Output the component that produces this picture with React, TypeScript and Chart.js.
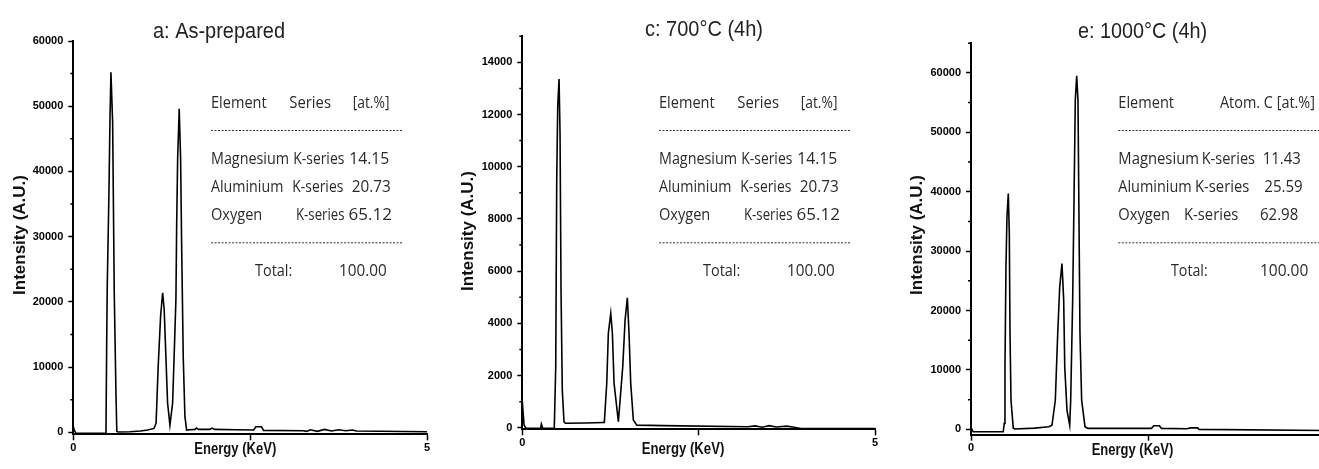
import React, { useEffect, useRef } from 'react';
import { Chart, registerables } from 'chart.js';

Chart.register(...registerables);

// ---------------- data ----------------
const X_RANGE = [0, 5];
const X_TICKS = [0, 2.5, 5];
const X_TICK_LABELS = ['0', '', '5'];
const X_TITLE = 'Energy (KeV)';
const Y_TITLE = 'Intensity (A.U.)';

// Panel a: As-prepared
const A_TITLE = 'a: As-prepared';
const A_ENERGY = [0.0, 0.015, 0.04, 0.45, 0.462, 0.472, 0.48, 0.504, 0.518, 0.532, 0.556, 0.565, 0.579, 0.603, 0.615, 0.63, 0.8, 0.95, 1.05, 1.14, 1.17, 1.2, 1.234, 1.263, 1.285, 1.309, 1.333, 1.366, 1.404, 1.427, 1.451, 1.461, 1.475, 1.497, 1.517, 1.531, 1.554, 1.578, 1.602, 1.65, 1.72, 1.74, 1.77, 1.93, 1.96, 2.0, 2.3, 2.55, 2.58, 2.66, 2.69, 3.25, 3.3, 3.35, 3.45, 3.55, 3.65, 3.75, 3.85, 3.95, 4.0, 5.0];
const A_COUNTS = [900, 300, -150, -150, 0, 13700, 22400, 36800, 47600, 55200, 47600, 37300, 21400, 6000, 200, 50, 100, 200, 350, 600, 1400, 10100, 17800, 21400, 18800, 11600, 4500, 1100, 4500, 12200, 20500, 31600, 41900, 49600, 41900, 29100, 11600, 2400, 350, 400, 450, 650, 450, 450, 650, 450, 400, 350, 850, 850, 300, 250, 150, 400, 150, 450, 200, 400, 250, 350, 200, 100];
const A_Y_RANGE = [-300, 60000];
const A_Y_TICKS = [0, 10000, 20000, 30000, 40000, 50000, 60000];
const A_Y_TICK_LABELS = ['0', '10000', '20000', '30000', '40000', '50000', '60000'];
const A_Y_MINOR = [5000, 15000, 25000, 35000, 45000, 55000];
const A_TABLE_HEADER = ['Element', 'Series', '[at.%]'];
const A_TABLE_ROWS = [
  ['Magnesium', 'K-series', '14.15'],
  ['Aluminium', 'K-series', '20.73'],
  ['Oxygen', 'K-series', '65.12'],
];
const A_TOTAL = ['Total:', '100.00'];

// Panel c: 700°C (4h)
const C_TITLE = 'c: 700°C (4h)';
const C_ENERGY = [0.0, 0.025, 0.05, 0.26, 0.27, 0.29, 0.45, 0.454, 0.474, 0.488, 0.502, 0.521, 0.535, 0.549, 0.567, 0.591, 0.61, 0.9, 1.15, 1.163, 1.197, 1.22, 1.254, 1.277, 1.301, 1.362, 1.424, 1.457, 1.489, 1.513, 1.537, 1.574, 1.623, 2.0, 3.2, 3.3, 3.4, 3.5, 3.6, 3.75, 3.85, 3.95, 5.0];
const C_COUNTS = [1000, 100, -20, -20, 140, -20, -20, 50, 2340, 9490, 12300, 13360, 11280, 5280, 1440, 230, 170, 180, 200, 200, 1700, 3620, 4380, 3620, 1700, 230, 2340, 4120, 4980, 3620, 1700, 300, 100, 80, 40, 70, 20, 80, 30, 60, 20, -30, -30];
const C_Y_RANGE = [-60, 15000];
const C_Y_TICKS = [0, 2000, 4000, 6000, 8000, 10000, 12000, 14000];
const C_Y_TICK_LABELS = ['0', '2000', '4000', '6000', '8000', '10000', '12000', '14000'];
const C_Y_MINOR = [1000, 3000, 5000, 7000, 9000, 11000, 13000, 15000];
const C_TABLE_HEADER = ['Element', 'Series', '[at.%]'];
const C_TABLE_ROWS = [
  ['Magnesium', 'K-series', '14.15'],
  ['Aluminium', 'K-series', '20.73'],
  ['Oxygen', 'K-series', '65.12'],
];
const C_TOTAL = ['Total:', '100.00'];

// Panel e: 1000°C (4h)
const E_TITLE = 'e: 1000°C (4h)';
const E_ENERGY = [0.0, 0.03, 0.455, 0.47, 0.48, 0.494, 0.508, 0.527, 0.541, 0.551, 0.565, 0.597, 0.62, 0.9, 1.1, 1.144, 1.191, 1.225, 1.253, 1.285, 1.309, 1.324, 1.356, 1.394, 1.408, 1.436, 1.455, 1.473, 1.493, 1.511, 1.525, 1.539, 1.563, 1.61, 1.65, 2.55, 2.58, 2.66, 2.69, 3.05, 3.1, 3.2, 3.22, 5.0];
const E_COUNTS = [300, -400, -400, 1000, 10500, 27400, 35800, 39700, 33000, 16200, 4900, 200, 50, 200, 450, 700, 4900, 16200, 24000, 27900, 21800, 10500, 3200, 700, 4900, 21800, 38600, 55400, 59500, 55400, 35800, 16200, 4900, 450, 170, 170, 600, 600, 170, 100, 250, 250, 0, -200];
const E_Y_RANGE = [-900, 65000];
const E_Y_TICKS = [0, 10000, 20000, 30000, 40000, 50000, 60000];
const E_Y_TICK_LABELS = ['0', '10000', '20000', '30000', '40000', '50000', '60000'];
const E_Y_MINOR = [5000, 15000, 25000, 35000, 45000, 55000, 65000];
const E_TABLE_HEADER = ['Element', 'Atom. C [at.%]'];
const E_TABLE_ROWS = [
  ['Magnesium', 'K-series', '11.43'],
  ['Aluminium', 'K-series', '25.59'],
  ['Oxygen', 'K-series', '62.98'],
];
const E_TOTAL = ['Total:', '100.00'];

// ---------------- layout (page pixel coordinates) ----------------
const H = 469;
const X_AXIS_H = 30;
const TABLE_Y = { header: 108.3, rows: [164.3, 192.3, 220.3], total: 276, dashes: [130, 242.3] };

type Seg = [number, number]; // x, maxWidth
type Layout = {
  left: number; width: number;
  area: { l: number; r: number; t: number; b: number };
  title: { x: number; w: number; y: number };
  yTitle: { x: number; y: number };
  xTitle: { x: number; w: number; y: number };
  header: Seg[]; rows: Seg[][]; total: Seg[]; dash: [number, number];
};

const shift = (segs: Seg[], d: number): Seg[] => segs.map(([x, w]) => [x + d, w] as Seg);

const A_LAYOUT: Layout = {
  left: 0, width: 440,
  area: { l: 73.3, r: 427, t: 41, b: 434.3 },
  title: { x: 153, w: 132, y: 37.7 },
  yTitle: { x: 24.5, y: 235 },
  xTitle: { x: 194.3, w: 82, y: 454 },
  header: [[211, 55.7], [289.3, 41.7], [352.7, 36.7]],
  rows: [
    [[211, 78], [293.3, 51], [349.3, 40]],
    [[211, 72.3], [292.3, 51], [351.7, 39]],
    [[211, 51.3], [296, 48.5], [348.5, 45]],
  ],
  total: [[255, 37.3], [339, 47.7]],
  dash: [211, 402.7],
};

const C_LAYOUT: Layout = {
  left: 440, width: 440,
  area: { l: 522.3, r: 875, t: 36.2, b: 429.3 },
  title: { x: 645, w: 118, y: 35.5 },
  yTitle: { x: 473.3, y: 231 },
  xTitle: { x: 641.7, w: 82.6, y: 454 },
  header: shift(A_LAYOUT.header, 448),
  rows: A_LAYOUT.rows.map((r) => shift(r, 448)),
  total: shift(A_LAYOUT.total, 448),
  dash: [659, 850.7],
};

const E_LAYOUT: Layout = {
  left: 880, width: 460,
  area: { l: 971, r: 1325, t: 43.2, b: 434.7 },
  title: { x: 1078, w: 129, y: 38 },
  yTitle: { x: 921.7, y: 235 },
  xTitle: { x: 1091.7, w: 81.6, y: 455 },
  header: [[1118.3, 55.7], [1220, 95]],
  rows: [
    [[1118.3, 80.7], [1201.7, 53.3], [1262.7, 38]],
    [[1118.3, 73.4], [1195, 54.3], [1264.3, 38.4]],
    [[1118.3, 51.7], [1184, 54.3], [1260, 38.3]],
  ],
  total: [[1171, 36.7], [1260, 48.3]],
  dash: [1118.3, 1330],
};

type PanelData = {
  title: string; energy: number[]; counts: number[];
  yRange: number[]; yTicks: number[]; yTickLabels: string[]; yMinor: number[];
  header: string[]; rows: string[][]; total: string[];
};

const PANELS: { data: PanelData; layout: Layout }[] = [
  { data: { title: A_TITLE, energy: A_ENERGY, counts: A_COUNTS, yRange: A_Y_RANGE, yTicks: A_Y_TICKS, yTickLabels: A_Y_TICK_LABELS, yMinor: A_Y_MINOR, header: A_TABLE_HEADER, rows: A_TABLE_ROWS, total: A_TOTAL }, layout: A_LAYOUT },
  { data: { title: C_TITLE, energy: C_ENERGY, counts: C_COUNTS, yRange: C_Y_RANGE, yTicks: C_Y_TICKS, yTickLabels: C_Y_TICK_LABELS, yMinor: C_Y_MINOR, header: C_TABLE_HEADER, rows: C_TABLE_ROWS, total: C_TOTAL }, layout: C_LAYOUT },
  { data: { title: E_TITLE, energy: E_ENERGY, counts: E_COUNTS, yRange: E_Y_RANGE, yTicks: E_Y_TICKS, yTickLabels: E_Y_TICK_LABELS, yMinor: E_Y_MINOR, header: E_TABLE_HEADER, rows: E_TABLE_ROWS, total: E_TOTAL }, layout: E_LAYOUT },
];

const TICK_FONT = { family: "'Liberation Sans', Arial, sans-serif", size: 11, weight: 'bold' as const };
const TABLE_FONT = "17px 'Open Sans', 'Noto Sans', sans-serif";

function Panel({ data, layout }: { data: PanelData; layout: Layout }) {
  const ref = useRef<HTMLCanvasElement>(null);

  useEffect(() => {
    const canvas = ref.current;
    if (!canvas) return;
    const P = layout.left;
    const W = layout.width;
    const a = layout.area;

    const decor = {
      id: 'decor',
      afterDraw(chart: any) {
        const ctx: CanvasRenderingContext2D = chart.ctx;
        const ys = chart.scales.y;
        const area = chart.chartArea;
        ctx.save();
        // minor ticks
        ctx.strokeStyle = '#000';
        ctx.lineWidth = 1.5;
        ctx.beginPath();
        for (const v of data.yMinor) {
          const py = ys.getPixelForValue(v);
          ctx.moveTo(area.left - 3, py);
          ctx.lineTo(area.left, py);
        }
        ctx.stroke();

        // title
        ctx.fillStyle = '#222';
        ctx.textAlign = 'left';
        ctx.textBaseline = 'alphabetic';
        ctx.font = "22px 'Liberation Sans', Arial, sans-serif";
        ctx.fillText(data.title, layout.title.x - P, layout.title.y, layout.title.w);

        // x title
        ctx.fillStyle = '#111';
        ctx.font = "bold 16px 'Liberation Sans', Arial, sans-serif";
        ctx.fillText(X_TITLE, layout.xTitle.x - P, layout.xTitle.y, layout.xTitle.w);

        // y title
        ctx.save();
        ctx.translate(layout.yTitle.x - P, layout.yTitle.y);
        ctx.rotate(-Math.PI / 2);
        ctx.textAlign = 'center';
        ctx.font = "bold 17px 'Liberation Sans', Arial, sans-serif";
        ctx.fillText(Y_TITLE, 0, 0, 124);
        ctx.restore();

        // table
        ctx.fillStyle = '#2a2a2a';
        ctx.textAlign = 'left';
        ctx.font = TABLE_FONT;
        data.header.forEach((t, i) => {
          const [x, w] = layout.header[i];
          ctx.fillText(t, x - P, TABLE_Y.header, w);
        });
        data.rows.forEach((row, r) => {
          row.forEach((t, i) => {
            const [x, w] = layout.rows[r][i];
            ctx.fillText(t, x - P, TABLE_Y.rows[r], w);
          });
        });
        data.total.forEach((t, i) => {
          const [x, w] = layout.total[i];
          ctx.fillText(t, x - P, TABLE_Y.total, w);
        });
        ctx.strokeStyle = '#333';
        ctx.lineWidth = 1;
        ctx.setLineDash([2, 1.5]);
        ctx.beginPath();
        for (const dy of TABLE_Y.dashes) {
          ctx.moveTo(layout.dash[0] - P, dy + 0.5);
          ctx.lineTo(layout.dash[1] - P, dy + 0.5);
        }
        ctx.stroke();
        ctx.restore();
      },
    };

    const chart = new Chart(canvas, {
      type: 'line',
      data: {
        datasets: [
          {
            data: data.energy.map((x, i) => ({ x, y: data.counts[i] })),
            borderColor: '#000',
            borderWidth: 1.6,
            pointRadius: 0,
            tension: 0,
            fill: false,
          },
        ],
      },
      options: {
        animation: false,
        responsive: false,
        devicePixelRatio: 1,
        events: [],
        layout: {
          padding: {
            left: 0,
            top: a.t,
            right: W - (a.r - P),
            bottom: H - a.b - X_AXIS_H,
          },
        },
        plugins: {
          legend: { display: false },
          tooltip: { enabled: false },
          title: { display: false },
        },
        scales: {
          x: {
            type: 'linear',
            min: X_RANGE[0],
            max: X_RANGE[1],
            afterBuildTicks: (s: any) => {
              s.ticks = X_TICKS.map((v) => ({ value: v }));
            },
            afterFit: (s: any) => {
              s.height = X_AXIS_H;
              s.paddingLeft = 0;
              s.paddingRight = 0;
              s.paddingTop = 0;
              s.paddingBottom = 0;
            },
            ticks: {
              autoSkip: false,
              maxRotation: 0,
              padding: 1,
              color: '#000',
              font: TICK_FONT,
              callback: (_v: any, i: number) => X_TICK_LABELS[i],
            },
            grid: {
              drawOnChartArea: false,
              drawTicks: true,
              tickLength: 6,
              tickColor: '#000',
              tickWidth: 1.5,
            },
            border: { display: true, color: '#000', width: 2 },
          },
          y: {
            type: 'linear',
            min: data.yRange[0],
            max: data.yRange[1],
            afterBuildTicks: (s: any) => {
              s.ticks = data.yTicks.map((v) => ({ value: v }));
            },
            afterFit: (s: any) => {
              s.width = a.l - P;
              s.paddingLeft = 0;
              s.paddingRight = 0;
              s.paddingTop = 0;
              s.paddingBottom = 0;
            },
            ticks: {
              autoSkip: false,
              padding: 5,
              color: '#000',
              font: TICK_FONT,
              callback: (_v: any, i: number) => data.yTickLabels[i],
            },
            grid: {
              drawOnChartArea: false,
              drawTicks: true,
              tickLength: 5,
              tickColor: '#000',
              tickWidth: 1.5,
            },
            border: { display: true, color: '#000', width: 2 },
          },
        },
      } as any,
      plugins: [decor],
    });

    return () => chart.destroy();
  }, [data, layout]);

  return (
    <canvas
      ref={ref}
      width={layout.width}
      height={H}
      style={{ position: 'absolute', left: layout.left, top: 0, width: layout.width, height: H }}
    />
  );
}

export default function App() {
  return (
    <div
      style={{
        position: 'fixed',
        left: 0,
        top: 0,
        width: 1319,
        height: H,
        overflow: 'hidden',
        background: '#fff',
      }}
    >
      {PANELS.map((p, i) => (
        <Panel key={i} data={p.data} layout={p.layout} />
      ))}
    </div>
  );
}
